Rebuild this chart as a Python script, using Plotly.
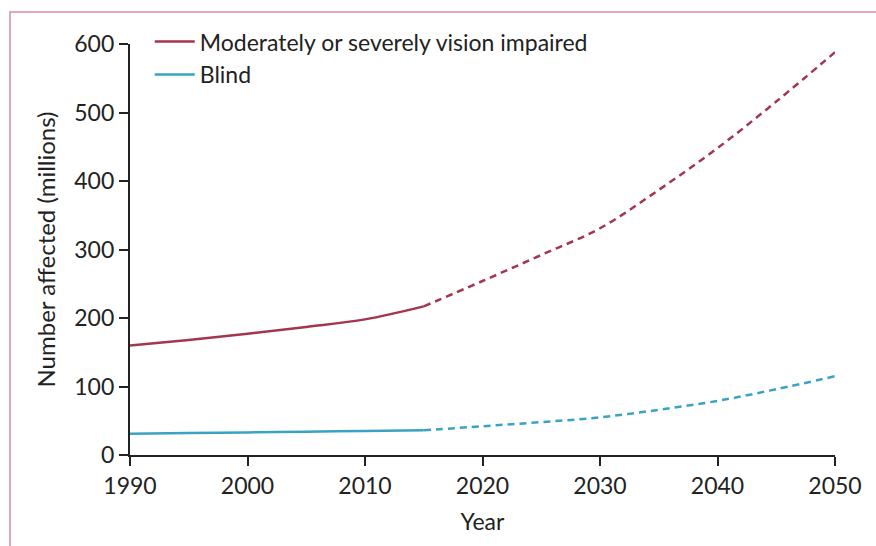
import plotly.graph_objects as go

# Observed (1990-2015) and projected (2015-2050) estimates, millions of people
years_obs = [1990, 1995, 2000, 2005, 2010, 2015]
msvi_obs = [160, 168, 177, 187, 198, 217]
blind_obs = [31, 32, 33, 34, 35, 36]

years_proj = [2015, 2020, 2025, 2030, 2035, 2040, 2045, 2050]
msvi_proj = [217, 254, 292, 331, 387, 448, 516, 588]
blind_proj = [36, 42, 48, 55, 66, 79, 96, 115]

x_ticks = [1990, 2000, 2010, 2020, 2030, 2040, 2050]
y_ticks = [0, 100, 200, 300, 400, 500, 600]

MSVI_COLOR = "#a3354f"
BLIND_COLOR = "#3aa3c2"
INK = "#222222"
FONT = "Lato"

fig = go.Figure()

fig.add_trace(go.Scatter(
    x=years_obs, y=msvi_obs, mode="lines", line_shape="spline",
    name="Moderately or severely vision impaired",
    line=dict(color=MSVI_COLOR, width=2.5),
))
fig.add_trace(go.Scatter(
    x=years_obs, y=blind_obs, mode="lines", line_shape="spline",
    name="Blind",
    line=dict(color=BLIND_COLOR, width=2.5),
))
fig.add_trace(go.Scatter(
    x=years_proj, y=msvi_proj, mode="lines", line_shape="spline",
    showlegend=False,
    line=dict(color=MSVI_COLOR, width=2.5, dash="7px,5px"),
))
fig.add_trace(go.Scatter(
    x=years_proj, y=blind_proj, mode="lines", line_shape="spline",
    showlegend=False,
    line=dict(color=BLIND_COLOR, width=2.5, dash="7px,5px"),
))

axis_common = dict(
    showline=True, linecolor=INK, linewidth=2.2,
    ticks="outside", tickcolor=INK, tickwidth=2.2, ticklen=9,
    showgrid=False, zeroline=False,
    tickfont=dict(family=FONT, size=23, color=INK),
)

fig.update_xaxes(
    range=[1990, 2050], tickvals=x_ticks,
    title=dict(text="Year", font=dict(family=FONT, size=23, color=INK), standoff=16),
    **axis_common,
)
fig.update_yaxes(
    range=[0, 600], tickvals=y_ticks,
    title=dict(text="Number affected (millions)", font=dict(family=FONT, size=24, color=INK), standoff=12),
    **axis_common,
)

# Pink panel frame around the figure
fig.add_shape(
    type="rect", xref="paper", yref="paper",
    x0=-0.1702, x1=1.07, y0=-0.25, y1=1.078,
    line=dict(color="#e3a6b4", width=2), fillcolor="rgba(0,0,0,0)",
    layer="below",
)

fig.update_layout(
    width=876, height=546,
    margin=dict(l=130, r=41, t=44, b=91),
    paper_bgcolor="white", plot_bgcolor="white",
    font=dict(family=FONT, size=23, color=INK),
    hovermode=False,
    legend=dict(
        x=0.028, y=1.058, xanchor="left", yanchor="top",
        bgcolor="rgba(0,0,0,0)", font=dict(family=FONT, size=23, color=INK),
        tracegroupgap=0, itemwidth=40,
    ),
)

fig.write_html("out.html")
